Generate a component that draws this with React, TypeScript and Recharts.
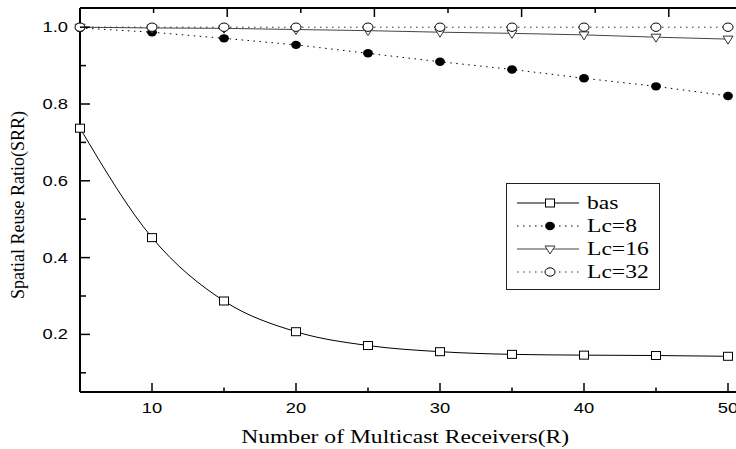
import { LineChart, Line, XAxis, YAxis, Legend } from "recharts";

const RECEIVERS = [5, 10, 15, 20, 25, 30, 35, 40, 45, 50];
const BAS = [0.737, 0.452, 0.287, 0.207, 0.171, 0.155, 0.148, 0.146, 0.145, 0.143];
const LC8 = [0.998, 0.987, 0.971, 0.954, 0.932, 0.91, 0.89, 0.867, 0.846, 0.821];
const LC16 = [1.0, 0.998, 0.997, 0.994, 0.991, 0.987, 0.984, 0.98, 0.974, 0.969];
const LC32 = [1.0, 1.0, 1.0, 1.0, 1.0, 1.0, 1.0, 1.0, 1.0, 1.0];

const X_TICKS = [10, 15, 20, 25, 30, 35, 40, 45, 50];
const Y_TICKS = [0.1, 0.2, 0.3, 0.4, 0.5, 0.6, 0.7, 0.8, 0.9, 1.0];
const TOP_TICKS = [0, 1, 2, 3, 4, 5, 6, 7, 8, 9, 10];
const RIGHT_TICKS = [0, 1, 2, 3, 4, 5];

const data = RECEIVERS.map((r, i) => ({
  r,
  bas: BAS[i],
  lc8: LC8[i],
  lc16: LC16[i],
  lc32: LC32[i],
}));

type MarkerKind = "square" | "dot" | "triangle" | "circle";

const SERIES: { key: string; name: string; stroke: string; dash?: string; kind: MarkerKind; curve: "monotone" | "linear" }[] = [
  { key: "bas", name: "bas", stroke: "#000", kind: "square", curve: "monotone" },
  { key: "lc8", name: "Lc=8", stroke: "#000", dash: "1.5 4.5", kind: "dot", curve: "linear" },
  { key: "lc16", name: "Lc=16", stroke: "#444", kind: "triangle", curve: "linear" },
  { key: "lc32", name: "Lc=32", stroke: "#333", dash: "1.5 4.5", kind: "circle", curve: "linear" },
];

const SANS = "'Liberation Sans', Arial, sans-serif";
const SERIF = "'Liberation Serif', 'Times New Roman', serif";
const STRETCH = 1.31;

// the source picture is stretched sideways, so text gets a horizontal scale
const stretchAt = (x: number, k = STRETCH) => `matrix(${k} 0 0 1 ${x * (1 - k)} 0)`;

function Marker({ kind, cx, cy }: { kind: MarkerKind; cx: number; cy: number }) {
  if (kind === "square")
    return <rect x={cx - 4.5} y={cy - 4} width={9} height={8} fill="#fff" stroke="#000" strokeWidth={1} />;
  if (kind === "dot") return <ellipse cx={cx} cy={cy} rx={4.9} ry={4.2} fill="#000" />;
  if (kind === "triangle")
    return (
      <polygon
        points={`${cx - 5},${cy - 3} ${cx + 5},${cy - 3} ${cx},${cy + 5}`}
        fill="#fff"
        stroke="#333"
        strokeWidth={1}
      />
    );
  return <ellipse cx={cx} cy={cy} rx={5} ry={4.2} fill="#fff" stroke="#000" strokeWidth={1} />;
}

const BottomTick = (props: any) => {
  const { x, y, payload } = props;
  const major = payload.value % 10 === 0;
  return (
    <g>
      <line x1={x} x2={x} y1={y} y2={y - (major ? 9 : 4.5)} stroke="#000" strokeWidth={1.5} />
      {major && (
        <text x={x} y={y + 21} textAnchor="middle" fontFamily={SANS} fontSize={14} fill="#000" transform={stretchAt(x)}>
          {payload.value}
        </text>
      )}
    </g>
  );
};

const LeftTick = (props: any) => {
  const { x, y, payload } = props;
  const major = Math.round(payload.value * 10) % 2 === 0;
  return (
    <g>
      <line x1={x} x2={x + (major ? 10 : 6)} y1={y} y2={y} stroke="#000" strokeWidth={1.5} />
      {major && (
        <text x={x - 12} y={y + 5} textAnchor="end" fontFamily={SANS} fontSize={14} fill="#000" transform={stretchAt(x - 12)}>
          {payload.value.toFixed(1)}
        </text>
      )}
    </g>
  );
};

const TopTick = (props: any) => {
  const { x, y, payload } = props;
  const major = payload.value % 2 === 0;
  return <line x1={x} x2={x} y1={y} y2={y + (major ? 9 : 5)} stroke="#000" strokeWidth={1.5} />;
};

const RightTick = (props: any) => {
  const { x, y } = props;
  return <line x1={x} x2={x - 10} y1={y} y2={y} stroke="#000" strokeWidth={1.5} />;
};

const YTitle = (props: any) => {
  const vb = props.viewBox;
  const x = vb.x + 23.5;
  const y = vb.y + vb.height / 2 + 5;
  return (
    <text x={x} y={y} textAnchor="middle" fontFamily={SERIF} fontSize={18} fill="#000" transform={`rotate(-90 ${x} ${y})`}>
      Spatial Reuse Ratio(SRR)
    </text>
  );
};

const XTitle = (props: any) => {
  const vb = props.viewBox;
  const x = vb.x + vb.width / 2 - 6;
  const y = vb.y + 51;
  return (
    <text x={x} y={y} textAnchor="middle" fontFamily={SERIF} fontSize={18} fill="#000" transform={stretchAt(x)}>
      Number of Multicast Receivers(R)
    </text>
  );
};

const LegendBox = () => (
  <svg width={154} height={107} style={{ display: "block" }}>
    <rect x={0.5} y={0.5} width={153} height={106} fill="#fff" stroke="#222" strokeWidth={1} />
    {SERIES.map((s, i) => {
      const y = 20 + i * 23;
      return (
        <g key={s.key}>
          <line x1={11} x2={73} y1={y} y2={y} stroke={s.stroke} strokeWidth={1} strokeDasharray={s.dash} />
          <Marker kind={s.kind} cx={44} cy={y} />
          <text x={81} y={y + 6} fontFamily={SERIF} fontSize={18} fill="#000" transform={stretchAt(81)}>
            {s.name}
          </text>
        </g>
      );
    })}
  </svg>
);

export default function App() {
  return (
    <div style={{ position: "fixed", left: 0, top: 0, width: 736, height: 449, overflow: "hidden", background: "#fff" }}>
      <LineChart width={760} height={449} data={data} margin={{ top: 0, right: 7.6, bottom: 0, left: 0 }}>
        <XAxis
          xAxisId="main"
          dataKey="r"
          type="number"
          domain={[5, 51]}
          ticks={X_TICKS}
          interval={0}
          height={57}
          tickSize={0}
          tickMargin={0}
          tickLine={false}
          tick={<BottomTick />}
          axisLine={{ stroke: "#000", strokeWidth: 2 }}
          label={<XTitle />}
        />
        <XAxis
          xAxisId="top"
          orientation="top"
          type="number"
          domain={[0, 10]}
          ticks={TOP_TICKS}
          interval={0}
          height={8}
          tickSize={0}
          tickMargin={0}
          tickLine={false}
          tick={<TopTick />}
          axisLine={{ stroke: "#000", strokeWidth: 2 }}
        />
        <YAxis
          yAxisId="main"
          type="number"
          domain={[0.05, 1.05]}
          ticks={Y_TICKS}
          interval={0}
          width={80}
          tickSize={0}
          tickMargin={0}
          tickLine={false}
          tick={<LeftTick />}
          axisLine={{ stroke: "#000", strokeWidth: 2 }}
          label={<YTitle />}
        />
        <YAxis
          yAxisId="right"
          orientation="right"
          type="number"
          domain={[0, 5]}
          ticks={RIGHT_TICKS}
          interval={0}
          width={10}
          tickSize={0}
          tickMargin={0}
          tickLine={false}
          tick={<RightTick />}
          axisLine={{ stroke: "#000", strokeWidth: 2 }}
        />
        {SERIES.map((s) => (
          <Line
            key={s.key}
            xAxisId="main"
            yAxisId="main"
            dataKey={s.key}
            name={s.name}
            type={s.curve}
            stroke={s.stroke}
            strokeWidth={1}
            strokeDasharray={s.dash}
            isAnimationActive={false}
            activeDot={false}
            dot={(p: any) => <Marker key={`${s.key}-${p.index}`} kind={s.kind} cx={p.cx} cy={p.cy} />}
          />
        ))}
        <Legend
          layout="vertical"
          align="center"
          verticalAlign="middle"
          content={<LegendBox />}
          wrapperStyle={{ left: 506, top: 183, width: 154, height: 107 }}
        />
      </LineChart>
    </div>
  );
}
